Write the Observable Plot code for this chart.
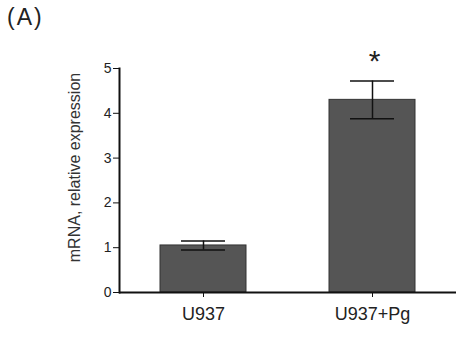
<!DOCTYPE html>
<html>
<head>
<meta charset="utf-8">
<script src="https://cdn.jsdelivr.net/npm/d3@7"></script>
<script src="https://cdn.jsdelivr.net/npm/@observablehq/plot@0.6"></script>
<style>
  body { margin: 0; background: #fff; }
  #wrap { position: relative; width: 461px; height: 337px; font-family: "Liberation Sans", Arial, sans-serif; }
  #panel { position: absolute; left: 7px; top: 4px; font-size: 23px; letter-spacing: 2px; color: #222; }
  #chart { position: absolute; left: 0; top: 0; }
</style>
</head>
<body>
<div id="wrap">
  <div id="chart"></div>
  <div id="panel">(A)</div>
</div>
<script>
const groups = ["U937", "U937+Pg"];
const means = [1.05, 4.3];
const errors = [0.1, 0.42];
const marks = ["", "*"];
const yTicks = [0, 1, 2, 3, 4, 5];
const yLabel = "mRNA, relative expression";

const data = groups.map((g, i) => ({group: g, mean: means[i], err: errors[i], mark: marks[i]}));

const chart = Plot.plot({
  width: 461,
  height: 337,
  marginLeft: 119,
  marginRight: 5,
  marginTop: 68,
  marginBottom: 45,
  style: {fontFamily: "'Liberation Sans', Arial, sans-serif", background: "white", color: "#222"},
  x: {domain: groups, paddingInner: 0.49, paddingOuter: 0.24, label: null},
  y: {domain: [0, 5], label: null},
  marks: [
    Plot.barY(data, {x: "group", y: "mean", fill: "#555", stroke: "#333", strokeWidth: 1}),
    Plot.ruleX(data, {x: "group", y1: d => d.mean - d.err, y2: d => d.mean + d.err, stroke: "#111", strokeWidth: 1.5}),
    Plot.tickY(data, {x: "group", y: d => d.mean + d.err, stroke: "#111", strokeWidth: 1.5, insetLeft: 21, insetRight: 21}),
    Plot.tickY(data, {x: "group", y: d => d.mean - d.err, stroke: "#111", strokeWidth: 1.5, insetLeft: 21, insetRight: 21}),
    Plot.text(data, {x: "group", y: d => d.mean + d.err, text: "mark", dy: -20, dx: 2, fontSize: 30, fill: "#222"}),
    Plot.axisY({ticks: yTicks, tickFormat: d => d, fontSize: 14, tickSize: 6, tickPadding: 2, label: null, stroke: "#111", fill: "#222"}),
    Plot.text([yLabel], {frameAnchor: "left", textAnchor: "middle", dx: -45, dy: -13, rotate: -90, fontSize: 16, fill: "#333"}),
    Plot.axisX({tickSize: 5, fontSize: 18, tickPadding: 10, label: null, stroke: "#111", fill: "#222"}),
    Plot.ruleY([0], {stroke: "#111", strokeWidth: 2}),
    Plot.frame({anchor: "left", stroke: "#111", strokeWidth: 2})
  ]
});
document.getElementById("chart").appendChild(chart);
</script>
</body>
</html>
